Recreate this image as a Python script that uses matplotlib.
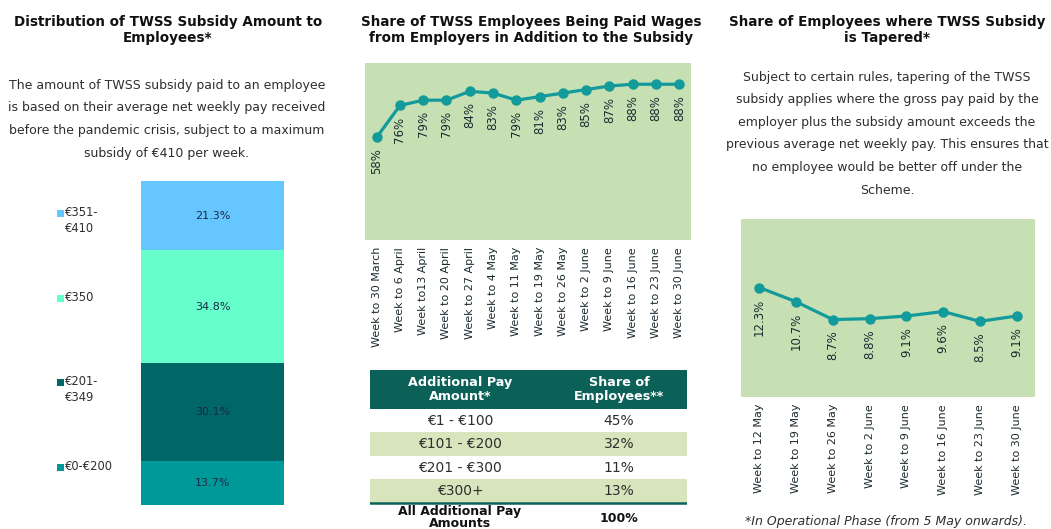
import matplotlib
matplotlib.use("Agg")
import matplotlib.pyplot as plt
from matplotlib.patches import Rectangle

plt.rcParams['font.family'] = ['DejaVu Sans']

# ---------------- data ----------------
dist_labels = ["€0-€200", "€201-\n€349", "€350", "€351-\n€410"]
dist_values = [13.7, 30.1, 34.8, 21.3]
dist_colors = ["#009999", "#006666", "#66FFCC", "#66C6FF"]

wages_weeks = ["Week to 30 March", "Week to 6 April", "Week to13 April", "Week to 20 April",
               "Week to 27 April", "Week to 4 May", "Week to 11 May", "Week to 19 May",
               "Week to 26 May", "Week to 2 June", "Week to 9 June", "Week to 16 June",
               "Week to 23 June", "Week to 30 June"]
wages_share = [58, 76, 79, 79, 84, 83, 79, 81, 83, 85, 87, 88, 88, 88]

table_header = ["Additional Pay\nAmount*", "Share of\nEmployees**"]
table_ranges = ["€1 - €100", "€101 - €200", "€201 - €300", "€300+"]
table_shares = [45, 32, 11, 13]
table_total_label = "All Additional Pay\nAmounts"
table_total = 100

taper_weeks = ["Week to 12 May", "Week to 19 May", "Week to 26 May", "Week to 2 June",
               "Week to 9 June", "Week to 16 June", "Week to 23 June", "Week to 30 June"]
taper_share = [12.3, 10.7, 8.7, 8.8, 9.1, 9.6, 8.5, 9.1]

title1 = "Distribution of TWSS Subsidy Amount to\nEmployees*"
title2 = "Share of TWSS Employees Being Paid Wages\nfrom Employers in Addition to the Subsidy"
title3 = "Share of Employees where TWSS Subsidy\nis Tapered*"
para1 = ["The amount of TWSS subsidy paid to an employee",
         "is based on their average net weekly pay received",
         "before the pandemic crisis, subject to a maximum",
         "subsidy of €410 per week."]
para3 = ["Subject to certain rules, tapering of the TWSS",
         "subsidy applies where the gross pay paid by the",
         "employer plus the subsidy amount exceeds the",
         "previous average net weekly pay. This ensures that",
         "no employee would be better off under the",
         "Scheme."]
footnote3 = "*In Operational Phase (from 5 May onwards)."

# ---------------- layout helpers ----------------
W, H = 1051, 529
fig = plt.figure(figsize=(W / 100, H / 100), dpi=100)
fig.patch.set_facecolor("white")


def fx(x):
    return x / W


def fy(y):
    return 1 - y / H


def axes_px(x0, y0, x1, y1):
    return fig.add_axes([fx(x0), fy(y1), (x1 - x0) / W, (y1 - y0) / H])


TITLE_C = "#111111"
TEXT_C = "#2E2E2E"
LABEL_C = "#1C2A30"
BAR_LABEL_C = "#1A2A44"
GREEN_BG = "#C6E0B4"
LINE_C = "#139A9A"

# titles
for cx, t in [(168, title1), (531, title2), (887, title3)]:
    fig.text(fx(cx), fy(30), t, ha="center", va="center", fontsize=9.75,
             fontweight="bold", color=TITLE_C, linespacing=1.12)

# paragraphs
for i, line in enumerate(para1):
    fig.text(fx(167), fy(85 + i * 22.7), line, ha="center", va="center",
             fontsize=9, color=TEXT_C)
for i, line in enumerate(para3):
    fig.text(fx(887), fy(77 + i * 22.6), line, ha="center", va="center",
             fontsize=9, color=TEXT_C)

# ---------------- panel 1: stacked bar ----------------
ax1 = axes_px(141, 181, 284, 505)
bottom = 0
for v, c in zip(dist_values, dist_colors):
    ax1.bar(0, v, bottom=bottom, width=1.0, color=c, edgecolor="none")
    ax1.text(0, bottom + v / 2, f"{v:.1f}%", ha="center", va="center",
             fontsize=8, color=BAR_LABEL_C)
    bottom += v
ax1.set_xlim(-0.5, 0.5)
ax1.set_ylim(0, sum(dist_values))
ax1.axis("off")

# legend (evenly spaced entries, top to bottom)
leg_y = [467, 382, 298, 213]
for lab, c, y in zip(dist_labels, dist_colors, leg_y):
    fig.patches.append(Rectangle((fx(57), fy(y + 3.5)), 7 / W, 7 / H,
                                 transform=fig.transFigure, facecolor=c,
                                 edgecolor="none"))
    fig.text(fx(65), fy(y - 7), lab, ha="left", va="top", fontsize=8.3,
             color=TEXT_C, linespacing=1.3)

# ---------------- line chart helper ----------------
def line_panel(ax, cats, vals, ymax, fmt):
    x = list(range(len(cats)))
    ax.set_facecolor(GREEN_BG)
    ax.plot(x, vals, color=LINE_C, lw=2.3, marker="o", ms=6.5,
            solid_joinstyle="round")
    for xi, v in zip(x, vals):
        ax.annotate(fmt(v), (xi, v), xytext=(0, -8), textcoords="offset points",
                    rotation=90, ha="center", va="top", fontsize=8.5,
                    color=LABEL_C)
    ax.set_xlim(-0.5, len(cats) - 0.5)
    ax.set_ylim(0, ymax)
    ax.set_xticks(x)
    ax.set_xticklabels(cats, rotation=90, fontsize=8, color=LABEL_C)
    ax.set_yticks([])
    ax.tick_params(axis="x", length=0, pad=5)
    for s in ax.spines.values():
        s.set_visible(False)


ax2 = axes_px(365, 63, 691, 240)
line_panel(ax2, wages_weeks, wages_share, 100, lambda v: f"{v}%")

ax3 = axes_px(741, 219, 1035, 397)
line_panel(ax3, taper_weeks, taper_share, 20, lambda v: f"{v:.1f}%")

fig.text(fx(886), fy(521), footnote3, ha="center", va="center", fontsize=9,
         style="italic", color=TEXT_C)

# ---------------- table ----------------
tx0, tx1 = 370, 687
ty0 = 370
axt = axes_px(tx0, ty0, tx1, 560)
axt.set_xlim(tx0, tx1)
axt.set_ylim(560, ty0)
axt.axis("off")
HEAD_C = "#0B6157"
ROW_G = "#D8E4BC"
col_x = [460, 619]
head_h = 39
row_h = 23.4
axt.add_patch(Rectangle((tx0, ty0), tx1 - tx0, head_h, facecolor=HEAD_C, edgecolor="none"))
for cx, h in zip(col_x, table_header):
    axt.text(cx, ty0 + head_h / 2, h, ha="center", va="center", fontsize=9.2,
             fontweight="bold", color="white", linespacing=1.05)
for i, (r, s) in enumerate(zip(table_ranges, table_shares)):
    y = ty0 + head_h + i * row_h
    if i % 2 == 1:
        axt.add_patch(Rectangle((tx0, y), tx1 - tx0, row_h, facecolor=ROW_G, edgecolor="none"))
    axt.text(col_x[0], y + row_h / 2, r, ha="center", va="center", fontsize=10, color=TEXT_C)
    axt.text(col_x[1], y + row_h / 2, f"{s}%", ha="center", va="center", fontsize=10, color=TEXT_C)
yl = ty0 + head_h + len(table_ranges) * row_h
axt.plot([tx0, tx1], [yl, yl], color=HEAD_C, lw=1.8)
axt.text(col_x[0], yl + 2, table_total_label, ha="center", va="top", fontsize=9,
         fontweight="bold", color="#111111", linespacing=0.95)
axt.text(col_x[1], yl + 16, f"{table_total}%", ha="center", va="center", fontsize=9,
         fontweight="bold", color="#111111")

fig.savefig("out.png", dpi=100, facecolor="white")
